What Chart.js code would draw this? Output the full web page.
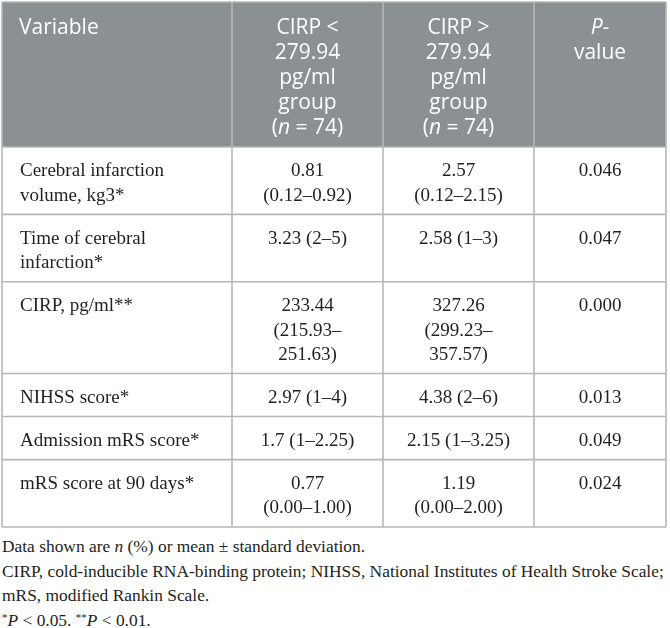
<!DOCTYPE html>
<html>
<head>
<meta charset="utf-8">
<script src="https://cdn.jsdelivr.net/npm/chart.js@4.4.1/dist/chart.umd.min.js"></script>
<style>
  html, body { margin: 0; padding: 0; background: #fff; }
  #wrap { width: 670px; height: 529px; position: relative; }
  #notes {
    margin: 0; padding: 5px 0 0 2px;
    font-family: "Liberation Serif", "DejaVu Serif", serif;
    font-size: 17.4px; line-height: 24.7px; color: #231f20;
    white-space: nowrap;
  }
  #notes sup { font-size: 11px; vertical-align: 5px; line-height: 0; }
</style>
</head>
<body>
<div id="wrap"><canvas id="grafic" width="670" height="529"></canvas></div>
<div id="notes"></div>
<script>
// table content ("_" marks italic text, "\n" a line break)
const columns = ['Variable', 'CIRP <\n279.94\npg/ml\ngroup\n(_n_ = 74)', 'CIRP >\n279.94\npg/ml\ngroup\n(_n_ = 74)', '_P_-\nvalue'];
const variables = ['Cerebral infarction\nvolume, kg3*', 'Time of cerebral\ninfarction*', 'CIRP, pg/ml**', 'NIHSS score*', 'Admission mRS score*', 'mRS score at 90 days*'];
const lowGroup = ['0.81\n(0.12–0.92)', '3.23 (2–5)', '233.44\n(215.93–\n251.63)', '2.97 (1–4)', '1.7 (1–2.25)', '0.77\n(0.00–1.00)'];
const highGroup = ['2.57\n(0.12–2.15)', '2.58 (1–3)', '327.26\n(299.23–\n357.57)', '4.38 (2–6)', '2.15 (1–3.25)', '1.19\n(0.00–2.00)'];
const pValues = ['0.046', '0.047', '0.000', '0.013', '0.049', '0.024'];
const footnotes = [
    'Data shown are _n_ (%) or mean ± standard deviation.',
    'CIRP, cold-inducible RNA-binding protein; NIHSS, National Institutes of Health Stroke Scale;',
    'mRS, modified Rankin Scale.',
    '^*^_P_ < 0.05. ^**^_P_ < 0.01.'
];

// layout
const colWidths = [230, 151, 151, 132];
const headLine = 25, headPad = 20;
const bodyLine = 24.3, bodyPad = 18.8;
const headFont = '21px "Open Sans"';
const headItalic = 'italic 21px "Open Sans"';
const bodyFont = '19px "Liberation Serif"';
const bodyItalic = 'italic 19px "Liberation Serif"';

function lines(s) {
    return s.split('\n');
}

const body = variables.map((v, i) => [v, lowGroup[i], highGroup[i], pValues[i]]);

// row boundaries in table units
const rowEdges = [0];
const headLines = Math.max(...columns.map(c => lines(c).length));
rowEdges.push(headPad + headLines * headLine);
body.forEach(r => {
    const n = Math.max(...r.map(c => lines(c).length));
    rowEdges.push(rowEdges[rowEdges.length - 1] + bodyPad + n * bodyLine);
});
const colEdges = [0];
colWidths.forEach(w => colEdges.push(colEdges[colEdges.length - 1] + w));

function draw_rich(ctx, text, x, y, align, font, italic) {
    const parts = text.split('_');
    let total = 0;
    parts.forEach((p, k) => {
        ctx.font = k % 2 ? italic : font;
        total += ctx.measureText(p).width;
    });
    let cx = align === 'left' ? x : x - total / 2;
    ctx.textAlign = 'left';
    parts.forEach((p, k) => {
        ctx.font = k % 2 ? italic : font;
        ctx.fillText(p, cx, y);
        cx += ctx.measureText(p).width;
    });
}

const tablePlugin = {
    id: 'table',
    afterDraw(chart) {
        const ctx = chart.ctx;
        const xs = chart.scales.x, ys = chart.scales.y;
        const px = v => xs.getPixelForValue(v);
        const py = v => ys.getPixelForValue(v);
        ctx.save();
        // header band
        ctx.fillStyle = '#8b9093';
        ctx.fillRect(px(0), py(0), px(colEdges[4]) - px(0), py(rowEdges[1]) - py(0));
        // grid
        ctx.strokeStyle = '#b4b8b8';
        ctx.lineWidth = 1.6;
        ctx.beginPath();
        rowEdges.forEach(r => {
            ctx.moveTo(px(0), py(r));
            ctx.lineTo(px(colEdges[4]), py(r));
        });
        colEdges.forEach(c => {
            ctx.moveTo(px(c), py(0));
            ctx.lineTo(px(c), py(rowEdges[rowEdges.length - 1]));
        });
        ctx.stroke();
        ctx.textBaseline = 'middle';
        // header text
        ctx.fillStyle = '#ffffff';
        columns.forEach((c, j) => {
            lines(c).forEach((ln, k) => {
                const y = py(rowEdges[0]) + 26 + k * headLine;
                if (j === 0) draw_rich(ctx, ln, px(colEdges[0]) + 17, y, 'left', headFont, headItalic);
                else draw_rich(ctx, ln, (px(colEdges[j]) + px(colEdges[j + 1])) / 2, y, 'center', headFont, headItalic);
            });
        });
        // body text
        ctx.fillStyle = '#231f20';
        body.forEach((r, i) => {
            r.forEach((c, j) => {
                lines(c).forEach((ln, k) => {
                    const y = py(rowEdges[i + 1]) + 24.5 + k * bodyLine;
                    if (j === 0) draw_rich(ctx, ln, px(colEdges[0]) + 18, y, 'left', bodyFont, bodyItalic);
                    else draw_rich(ctx, ln, (px(colEdges[j]) + px(colEdges[j + 1])) / 2, y, 'center', bodyFont, bodyItalic);
                });
            });
        });
        ctx.restore();
    }
};

function create_table() {
    const ctx = document.getElementById('grafic');
    const config = {
        type: 'scatter',
        data: {datasets: []},
        options: {
            responsive: false,
            animation: false,
            layout: {padding: {left: 2, top: 2, right: 4, bottom: 2}},
            scales: {
                x: {type: 'linear', min: 0, max: colEdges[colEdges.length - 1], display: false},
                y: {type: 'linear', min: 0, max: rowEdges[rowEdges.length - 1], reverse: true, display: false}
            },
            plugins: {legend: {display: false}, tooltip: {enabled: false}}
        },
        plugins: [tablePlugin]
    };
    return new Chart(ctx, config);
}

function add_notes() {
    const div = document.getElementById('notes');
    footnotes.forEach(f => {
        const line = document.createElement('div');
        line.innerHTML = f
            .replace(/\^([^\^]*)\^/g, '<sup>$1</sup>')
            .replace(/_([^_]*)_/g, '<i>$1</i>');
        div.appendChild(line);
    });
}

create_table();
add_notes();
</script>
</body>
</html>
